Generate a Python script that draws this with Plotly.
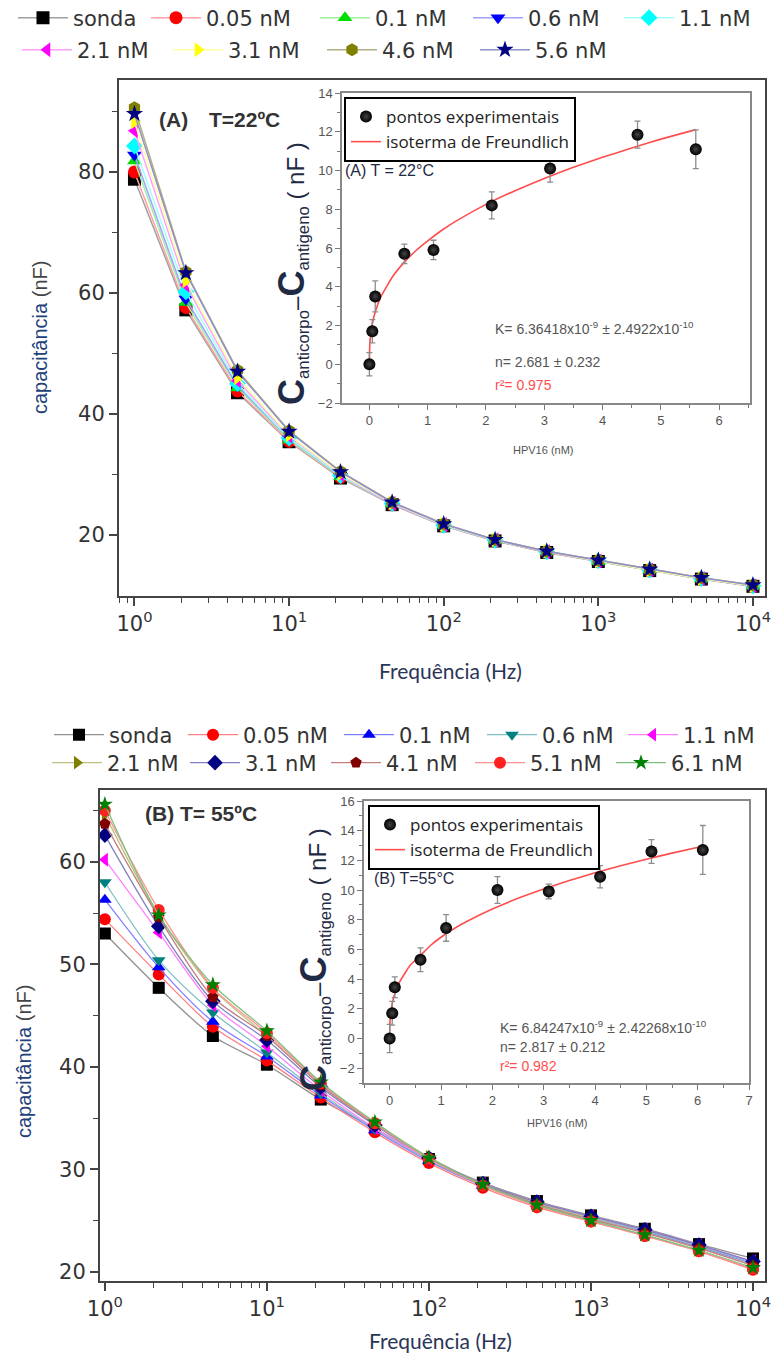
import plotly.graph_objects as go

W, H = 776, 1364

# ------------------------------------------------------------------ data
freq_hz = [1, 2.15, 4.64, 10, 21.5, 46.4, 100, 215, 464, 1000, 2150, 4640, 10000]

# Panel A (T = 22 C)
a_labels = ["sonda", "0.05 nM", "0.1 nM", "0.6 nM", "1.1 nM", "2.1 nM", "3.1 nM", "4.6 nM", "5.6 nM"]
a_sonda = [78.8, 57.2, 43.5, 35.4, 29.4, 25.0, 21.5, 19.0, 17.1, 15.6, 14.1, 12.7, 11.5]
a_005 = [80.0, 57.6, 43.8, 35.5, 29.5, 25.0, 21.5, 19.0, 17.1, 15.6, 14.1, 12.7, 11.5]
a_01 = [81.8, 58.4, 44.3, 35.7, 29.6, 25.1, 21.6, 19.1, 17.2, 15.6, 14.2, 12.7, 11.5]
a_06 = [82.8, 59.0, 44.6, 35.9, 29.7, 25.1, 21.6, 19.1, 17.2, 15.7, 14.2, 12.8, 11.5]
a_11 = [84.3, 60.2, 45.0, 36.0, 29.8, 25.2, 21.6, 19.1, 17.2, 15.7, 14.2, 12.8, 11.6]
a_21 = [86.8, 61.3, 45.5, 36.3, 30.0, 25.2, 21.7, 19.2, 17.2, 15.7, 14.2, 12.8, 11.6]
a_31 = [88.3, 62.0, 46.0, 36.5, 30.1, 25.3, 21.7, 19.2, 17.3, 15.7, 14.2, 12.8, 11.6]
a_46 = [90.6, 63.5, 47.2, 37.2, 30.5, 25.4, 21.8, 19.2, 17.3, 15.8, 14.3, 12.9, 11.7]
a_56 = [89.6, 63.3, 47.0, 37.1, 30.4, 25.4, 21.8, 19.2, 17.3, 15.8, 14.3, 12.9, 11.7]

# Panel B (T = 55 C)
b_labels = ["sonda", "0.05 nM", "0.1 nM", "0.6 nM", "1.1 nM", "2.1 nM", "3.1 nM", "4.1 nM", "5.1 nM", "6.1 nM"]
b_sonda = [53.0, 47.7, 43.0, 40.2, 36.8, 34.0, 31.0, 28.7, 26.9, 25.5, 24.2, 22.7, 21.3]
b_005 = [54.4, 49.0, 43.9, 40.6, 37.0, 33.6, 30.6, 28.2, 26.3, 24.9, 23.5, 22.0, 20.2]
b_01 = [56.3, 49.7, 44.4, 41.0, 37.2, 33.8, 30.8, 28.4, 26.6, 25.2, 23.9, 22.4, 20.8]
b_06 = [58.0, 50.4, 45.3, 41.4, 37.4, 33.9, 30.9, 28.5, 26.7, 25.3, 24.0, 22.5, 20.9]
b_11 = [60.2, 53.1, 46.0, 42.0, 37.7, 34.0, 31.0, 28.6, 26.8, 25.4, 24.1, 22.6, 21.0]
b_21 = [64.6, 54.8, 47.6, 43.0, 38.3, 34.5, 31.2, 28.6, 26.7, 25.2, 23.8, 22.3, 20.6]
b_31 = [62.6, 53.7, 46.4, 42.6, 38.0, 34.3, 31.1, 28.6, 26.8, 25.4, 24.1, 22.6, 21.0]
b_41 = [63.7, 54.6, 46.8, 43.0, 38.2, 34.4, 31.1, 28.5, 26.6, 25.1, 23.8, 22.3, 20.6]
b_51 = [65.0, 55.3, 47.7, 43.3, 38.4, 34.5, 31.0, 28.4, 26.4, 24.9, 23.5, 22.0, 20.3]
b_61 = [65.6, 54.8, 48.0, 43.5, 38.5, 34.6, 31.1, 28.5, 26.5, 25.0, 23.6, 22.1, 20.4]

# Inset A
ins_a_conc = [0, 0.05, 0.1, 0.6, 1.1, 2.1, 3.1, 4.6, 5.6]
ins_a_dc = [0.0, 1.7, 3.5, 5.7, 5.9, 8.2, 10.1, 11.85, 11.1]
ins_a_err = [0.6, 0.6, 0.8, 0.5, 0.5, 0.7, 0.7, 0.7, 1.0]
fit_a_conc = [0, 0.005, 0.02, 0.05, 0.1, 0.2, 0.4, 0.6, 0.8, 1.0, 1.25, 1.5, 2.0, 2.5, 3.0, 3.5, 4.0, 4.5, 5.0, 5.6]
fit_a_dc = [0, 0.88, 1.48, 2.09, 2.70, 3.50, 4.53, 5.27, 5.87, 6.37, 6.93, 7.41, 8.25, 8.96, 9.59, 10.17, 10.68, 11.16, 11.62, 12.11]

# Inset B
ins_b_conc = [0, 0.05, 0.1, 0.6, 1.1, 2.1, 3.1, 4.1, 5.1, 6.1]
ins_b_dc = [0.0, 1.7, 3.45, 5.3, 7.45, 10.0, 9.9, 10.9, 12.6, 12.7]
ins_b_err = [0.95, 0.8, 0.7, 0.8, 0.9, 0.9, 0.5, 0.75, 0.8, 1.65]
fit_b_conc = [0, 0.005, 0.02, 0.05, 0.1, 0.2, 0.4, 0.6, 0.8, 1.0, 1.25, 1.5, 2.0, 2.5, 3.0, 3.5, 4.0, 4.5, 5.0, 5.5, 6.1]
fit_b_dc = [0, 1.04, 1.70, 2.35, 3.01, 3.85, 4.93, 5.60, 6.28, 6.82, 7.39, 7.88, 8.72, 9.44, 10.07, 10.64, 11.16, 11.64, 12.08, 12.49, 12.95]

# tick values
log_major = [1, 10, 100, 1000, 10000]
log_major_text = ["10<sup>0</sup>", "10<sup>1</sup>", "10<sup>2</sup>", "10<sup>3</sup>", "10<sup>4</sup>"]
log_minor = [0.8, 0.9, 2, 3, 4, 5, 6, 7, 8, 9, 20, 30, 40, 50, 60, 70, 80, 90,
             200, 300, 400, 500, 600, 700, 800, 900, 2000, 3000, 4000, 5000, 6000, 7000, 8000, 9000]
a_yticks = [20, 40, 60, 80]
a_yminor = [30, 50, 70, 90]
b_yticks = [20, 30, 40, 50, 60]
b_yminor = [25, 35, 45, 55, 65]

# ------------------------------------------------------------------ styles
a_marker_col = ["#000000", "#ff0000", "#00dd00", "#0000ff", "#00ffff", "#ff00ff", "#ffff00", "#808000", "#000080"]
a_line_col = ["#a0a0a0", "#ffa0a0", "#a0f0a0", "#a0a0ff", "#a0ffff", "#ffa0ff", "#ffffa0", "#b0b080", "#9090c8"]
a_symbols = ["square", "circle", "triangle-up", "triangle-down", "diamond", "triangle-left", "triangle-right", "hexagon", "star"]
a_legend = ["legend"] * 5 + ["legend2"] * 4
a_lw = [68, 104, 88, 86, 80, 86, 89, 88, 80]

b_marker_col = ["#000000", "#ff0000", "#0000ff", "#008080", "#ff00ff", "#808000", "#000080", "#800000", "#ff2020", "#008000"]
b_line_col = ["#909090", "#ff8080", "#8080ff", "#80c0c0", "#ff80ff", "#c0c080", "#8080c0", "#c08080", "#ff9090", "#80c080"]
b_symbols = ["square", "circle", "triangle-up", "triangle-down", "triangle-left", "triangle-right", "diamond", "pentagon", "circle", "star"]
b_legend = ["legend3"] * 5 + ["legend4"] * 5
b_lw = [69, 91, 78, 76, 70, 73, 76, 79, 76, 70]

NUM_FONT = "DejaVu Sans"
AX_COL = "#444444"


def hx(px):
    return px / W


def vy(py):
    return 1 - py / H


fig = go.Figure()

a_series = [a_sonda, a_005, a_01, a_06, a_11, a_21, a_31, a_46, a_56]
for i, vals in enumerate(a_series):
    fig.add_trace(go.Scatter(
        x=freq_hz, y=vals, name=a_labels[i], mode="lines+markers",
        line=dict(color=a_line_col[i], width=1.5),
        marker=dict(color=a_marker_col[i], symbol=a_symbols[i], size=13),
        xaxis="x", yaxis="y", legend=a_legend[i], legendwidth=a_lw[i]))

b_series = [b_sonda, b_005, b_01, b_06, b_11, b_21, b_31, b_41, b_51, b_61]
for i, vals in enumerate(b_series):
    fig.add_trace(go.Scatter(
        x=freq_hz, y=vals, name=b_labels[i], mode="lines+markers",
        line=dict(color=b_line_col[i], width=1.3, shape="spline", smoothing=0.8),
        marker=dict(color=b_marker_col[i], symbol=b_symbols[i], size=12),
        xaxis="x3", yaxis="y3", legend=b_legend[i], legendwidth=b_lw[i]))

# insets
for (cx, cy, ce, fx, fy, xa, ya, lg) in [
        (ins_a_conc, ins_a_dc, ins_a_err, fit_a_conc, fit_a_dc, "x2", "y2", "legend5"),
        (ins_b_conc, ins_b_dc, ins_b_err, fit_b_conc, fit_b_dc, "x4", "y4", "legend6")]:
    fig.add_trace(go.Scatter(
        x=fx, y=fy, name="isoterma de Freundlich", mode="lines",
        line=dict(color="#ff4d4d", width=1.6, shape="spline", smoothing=0.4),
        xaxis=xa, yaxis=ya, legend=lg, legendrank=2))
    fig.add_trace(go.Scatter(
        x=cx, y=cy, name="pontos experimentais", mode="markers",
        marker=dict(color="#000000", size=12, gradient=dict(type="radial", color="#444444")),
        error_y=dict(type="data", array=ce, color="#8c8c8c", thickness=1.3, width=3),
        xaxis=xa, yaxis=ya, legend=lg, legendrank=1))

main_tick_font = dict(family=NUM_FONT, size=21, color="#333333")
inset_tick_font = dict(family="Liberation Sans", size=13, color="#555555")

common_main = dict(showline=True, mirror=True, linecolor=AX_COL, linewidth=2,
                   ticks="outside", ticklen=8, tickwidth=1.5, tickcolor=AX_COL,
                   showgrid=False, zeroline=False, tickfont=main_tick_font)
common_inset = dict(showline=True, mirror=True, linecolor="#888888", linewidth=1.5,
                    ticks="outside", ticklen=5, tickwidth=1.2, tickcolor="#777777",
                    showgrid=False, zeroline=False, tickfont=inset_tick_font)

log_minor_d = dict(tickvals=log_minor, ticks="outside", ticklen=5, tickwidth=1.2, tickcolor=AX_COL)

fig.update_layout(
    width=W, height=H, autosize=False,
    margin=dict(l=0, r=0, t=0, b=0, pad=0, autoexpand=False),
    paper_bgcolor="white", plot_bgcolor="white",
    xaxis=dict(type="log", domain=[hx(119), hx(765)], range=[-0.10, 4.078], anchor="y",
               tickmode="array", tickvals=log_major, ticktext=log_major_text,
               minor=log_minor_d, **common_main),
    yaxis=dict(domain=[vy(596), vy(80)], range=[9.9, 95.2], anchor="x",
               tickmode="array", tickvals=a_yticks,
               minor=dict(tickvals=a_yminor, ticks="outside", ticklen=5, tickwidth=1.2, tickcolor=AX_COL),
               **common_main),
    xaxis2=dict(domain=[hx(342), hx(750)], range=[-0.47, 6.53], anchor="y2",
                tickmode="array", tickvals=[0, 1, 2, 3, 4, 5, 6],
                minor=dict(dtick=0.5, tick0=0, ticks="outside", ticklen=3, tickcolor="#777777"),
                **common_inset),
    yaxis2=dict(domain=[vy(403), vy(93)], range=[-2, 14], anchor="x2",
                tickmode="array", tickvals=[-2, 0, 2, 4, 6, 8, 10, 12, 14],
                minor=dict(dtick=1, tick0=0, ticks="outside", ticklen=3, tickcolor="#777777"),
                **common_inset),
    xaxis3=dict(type="log", domain=[hx(100), hx(765)], range=[-0.03, 4.074], anchor="y3",
                tickmode="array", tickvals=log_major, ticktext=log_major_text,
                minor=log_minor_d, **common_main),
    yaxis3=dict(domain=[vy(1281), vy(790)], range=[19.1, 67.0], anchor="x3",
                tickmode="array", tickvals=b_yticks,
                minor=dict(tickvals=b_yminor, ticks="outside", ticklen=5, tickwidth=1.2, tickcolor=AX_COL),
                **common_main),
    xaxis4=dict(domain=[hx(364), hx(749)], range=[-0.5, 7], anchor="y4",
                tickmode="array", tickvals=[0, 1, 2, 3, 4, 5, 6, 7],
                minor=dict(dtick=0.5, tick0=0, ticks="outside", ticklen=3, tickcolor="#777777"),
                **common_inset),
    yaxis4=dict(domain=[vy(1083), vy(801)], range=[-3, 16], anchor="x4",
                tickmode="array", tickvals=[-2, 0, 2, 4, 6, 8, 10, 12, 14, 16],
                minor=dict(dtick=1, tick0=0, ticks="outside", ticklen=3, tickcolor="#777777"),
                **common_inset),
)

leg_font = dict(family=NUM_FONT, size=21, color="#333333")
row_leg = dict(orientation="h", xanchor="left", yanchor="middle", itemwidth=50,
               bgcolor="rgba(0,0,0,0)", font=leg_font, tracegroupgap=0)
ins_leg = dict(orientation="v", xanchor="left", yanchor="top", bgcolor="white",
               bordercolor="#000000", borderwidth=2,
               font=dict(family="Open Sans", size=17, color="#222222"), itemwidth=30)
fig.update_layout(
    legend=dict(x=hx(13), y=vy(18), **row_leg),
    legend2=dict(x=hx(17), y=vy(50), **row_leg),
    legend3=dict(x=hx(49), y=vy(735), **row_leg),
    legend4=dict(x=hx(47), y=vy(763), **row_leg),
    legend5=dict(x=hx(344), y=vy(97), **ins_leg),
    legend6=dict(x=hx(368), y=vy(805), **ins_leg),
)

TITLE_BLUE = "#22407a"
NAVY = "#1f2a44"


def ann(text, x, y, size, color="#333333", family="Liberation Sans", xanchor="center",
        yanchor="middle", angle=0):
    return dict(text=text, x=hx(x), y=vy(y), xref="paper", yref="paper", showarrow=False,
                xanchor=xanchor, yanchor=yanchor, textangle=angle,
                font=dict(size=size, color=color, family=family))


cap_title = '<span style="color:%s">capacitância</span> (nF)' % TITLE_BLUE
ins_title = ('<b><span style="font-size:36px">C</span></b><sub>anticorpo</sub>–'
             '<b><span style="font-size:36px">C</span></b><sub>antigeno</sub> ( nF )')
k_a = "K= 6.36418x10<sup>-9</sup> ± 2.4922x10<sup>-10</sup>"
k_b = "K= 6.84247x10<sup>-9</sup> ± 2.42268x10<sup>-10</sup>"

annotations = [
    ann(cap_title, 40, 338, 20, color="#444444", angle=-90),
    ann(cap_title, 24, 1062, 20, color="#444444", angle=-90),
    ann("Frequência (Hz)", 450, 670, 21, color="#2a3558", family="Lato"),
    ann("Frequência (Hz)", 440, 1340, 21, color="#2a3558", family="Lato"),
    ann("<b>(A)</b>", 157, 119, 21, color="#333333", xanchor="left"),
    ann("<b>T=22ºC</b>", 207, 119, 21, color="#333333", xanchor="left"),
    ann("<b>(B) T= 55ºC</b>", 143, 813, 21, color="#333333", xanchor="left"),
    ann(ins_title, 292, 274, 24, color=NAVY, angle=-90),
    ann(ins_title, 314, 960, 24, color=NAVY, angle=-90),
    ann("(A) T = 22°C", 343, 170, 16, color=NAVY, xanchor="left"),
    ann("(B) T=55°C", 372, 878, 16, color=NAVY, xanchor="left"),
    ann(k_a, 493, 328, 14, color="#555555", xanchor="left"),
    ann("n= 2.681 ± 0.232", 493, 362, 14, color="#555555", xanchor="left"),
    ann("r²= 0.975", 493, 385, 14, color="#ff4d4d", xanchor="left"),
    ann(k_b, 498, 1027, 14, color="#555555", xanchor="left"),
    ann("n= 2.817 ± 0.212", 498, 1047, 14, color="#555555", xanchor="left"),
    ann("r²= 0.982", 498, 1066, 14, color="#ff4d4d", xanchor="left"),
    ann("HPV16 (nM)", 543, 450, 11, color="#555555"),
    ann("HPV16 (nM)", 557, 1123, 11, color="#555555"),
]
fig.update_layout(annotations=annotations)

fig.write_html("out.html", config={"displayModeBar": False},
               post_script="document.body.style.margin='0px';document.body.style.padding='0px';")
